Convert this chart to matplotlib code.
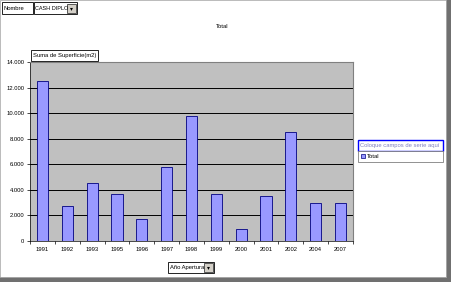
import matplotlib.pyplot as plt
from matplotlib.patches import Rectangle
from matplotlib.ticker import FuncFormatter

plt.rcParams['font.family'] = ['Liberation Sans', 'DejaVu Sans']

# data
years = ['1991', '1992', '1993', '1995', '1996', '1997', '1998',
         '1999', '2000', '2001', '2002', '2004', '2007']
superficie = [12500, 2700, 4550, 3700, 1700, 5800, 9750,
              3700, 900, 3500, 8500, 3000, 3000]
yticks = [0, 2000, 4000, 6000, 8000, 10000, 12000, 14000]

W, H = 451, 282
FS = 4.2
fig = plt.figure(figsize=(W / 100, H / 100), dpi=100)
fig.patch.set_facecolor('white')

def box(x0, y0, x1, y1, **kw):
    # rectangle in pixel coords (top-left origin)
    r = Rectangle((x0 / W, 1 - y1 / H), (x1 - x0) / W, (y1 - y0) / H,
                  transform=fig.transFigure, **kw)
    fig.add_artist(r)
    return r

def txt(x, y, s, **kw):
    kw.setdefault('fontsize', FS)
    fig.text(x / W, 1 - y / H, s, va='center', **kw)

def dropdown(x0, y0):
    box(x0, y0, x0 + 9, y0 + 9, facecolor='#d4d0c8', edgecolor='#404040', lw=0.6)
    txt(x0 + 4.5, y0 + 5, '\u25be', ha='center', color='black')

ax = fig.add_axes([30 / W, 1 - 241 / H, (353 - 30) / W, (241 - 62) / H])
ax.set_facecolor('#c0c0c0')
x = range(len(years))
ax.bar(x, superficie, width=0.45, color='#9999ff', edgecolor='#000080', lw=0.6, zorder=3)
ax.set_xlim(-0.5, len(years) - 0.5)
ax.set_ylim(0, 14000)
ax.set_yticks(yticks)
ax.yaxis.set_major_formatter(FuncFormatter(lambda v, p: f'{int(v):,}'.replace(',', '.')))
ax.set_xticks(x)
ax.set_xticklabels(years)
ax.set_xticks([i - 0.5 for i in range(len(years) + 1)], minor=True)
ax.grid(axis='y', color='black', lw=0.7, zorder=1)
ax.tick_params(axis='both', labelsize=FS, length=2, width=0.5, pad=2)
ax.tick_params(axis='x', which='major', length=0, pad=4)
ax.tick_params(axis='x', which='minor', length=2, width=0.5)
for s in ['top', 'right']:
    ax.spines[s].set_color('#808080')
    ax.spines[s].set_linewidth(0.8)
ax.spines['left'].set_color('black')
ax.spines['bottom'].set_color('black')
ax.spines['left'].set_linewidth(0.5)
ax.spines['bottom'].set_linewidth(0.5)

fig.text(222 / W, 1 - 27 / H, 'Total', fontsize=FS, ha='center', va='center')

# page field buttons
box(2, 2, 33, 14, facecolor='white', edgecolor='black', lw=0.6)
txt(4, 8, 'Nombre')
box(34, 2, 77, 14, facecolor='white', edgecolor='black', lw=0.6)
txt(35, 8, 'CASH DIPLO', fontsize=4.0)
dropdown(67, 4)

# data field button
box(31, 50, 98, 61, facecolor='white', edgecolor='black', lw=0.6, zorder=5)
txt(33, 55.5, 'Suma de Superficie(m2)', zorder=6)

# series drop zone / legend
box(358, 140, 443, 151, facecolor='white', edgecolor='#0000ff', lw=1.0)
txt(360, 145.5, 'Coloque campos de serie aquí', color='#8080c0')
box(358, 151, 443, 162, facecolor='white', edgecolor='#808080', lw=0.6)
box(361, 154, 365, 158, facecolor='#9999ff', edgecolor='#000080', lw=0.5)
txt(367, 156.5, 'Total')

# category field button
box(168, 262, 214, 273, facecolor='white', edgecolor='black', lw=0.6)
txt(170, 267.5, 'Año Apertura')
dropdown(204, 263)

# thumbnail frame shadow
box(446, 0, 451, 282, facecolor='#707070', edgecolor='none')
box(0, 277, 451, 282, facecolor='#707070', edgecolor='none')
box(0, 0, 446, 277, facecolor='none', edgecolor='#b0b0b0', lw=0.6)

fig.savefig('out.png', dpi=100, facecolor='white')
